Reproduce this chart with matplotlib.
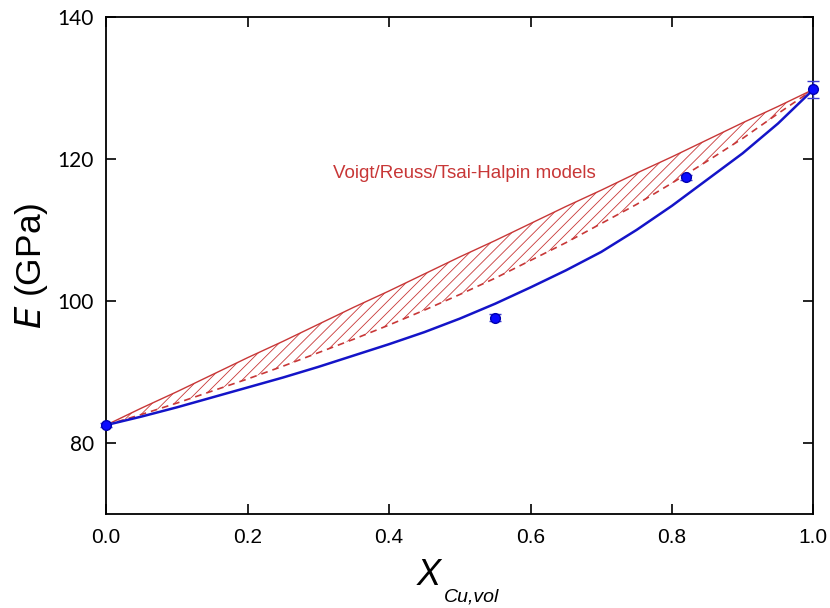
import numpy as np
import matplotlib
matplotlib.use("Agg")
import matplotlib.pyplot as plt

# measured points
x_pts = [0.0, 0.55, 0.82, 1.0]
E_pts = [82.5, 97.6, 117.4, 129.8]
E_err = [0.3, 0.5, 0.3, 1.2]

# model curves
x_model = [0.0, 0.05, 0.1, 0.15, 0.2, 0.25, 0.3, 0.35, 0.4, 0.45, 0.5,
           0.55, 0.6, 0.65, 0.7, 0.75, 0.8, 0.85, 0.9, 0.95, 1.0]
E_fit = [82.5, 83.7, 85.0, 86.4, 87.8, 89.2, 90.7, 92.3, 93.9, 95.6, 97.5,
         99.6, 101.9, 104.3, 106.9, 110.0, 113.4, 117.1, 120.8, 125.0, 129.8]
E_voigt = [82.5, 84.9, 87.2, 89.6, 92.0, 94.3, 96.7, 99.1, 101.4, 103.8, 106.2,
           108.5, 110.9, 113.3, 115.6, 118.0, 120.3, 122.7, 125.1, 127.4, 129.8]
E_reuss = [82.5, 84.0, 85.6, 87.3, 89.0, 90.8, 92.7, 94.6, 96.6, 98.7, 100.9,
           103.2, 105.7, 108.2, 110.9, 113.6, 116.6, 119.7, 122.9, 126.4, 129.8]

red = "#c83737"
blue = "#1414c8"

plt.rcParams['hatch.linewidth'] = 0.6
plt.rcParams['font.family'] = 'Liberation Sans'

fig = plt.figure(figsize=(8.3, 6.08), dpi=100)
ax = fig.add_axes([0.128, 0.155, 0.852, 0.817])

ax.fill_between(x_model, E_reuss, E_voigt, facecolor="none", edgecolor=red,
                hatch="///", linewidth=0)
ax.plot(x_model, E_voigt, color=red, lw=1.0)
ax.plot(x_model, E_reuss, color=red, lw=1.2, ls=(0, (4, 3)))
ax.plot(x_model, E_fit, color=blue, lw=1.8)
ax.errorbar(x_pts, E_pts, yerr=E_err, fmt="o", color="#0a0aff", ms=7,
            mec="#0000b0", ecolor="#3a3ad0", elinewidth=1, capsize=4, zorder=5,
            clip_on=False)

ax.text(0.506, 118.0, "Voigt/Reuss/Tsai-Halpin models", color=red,
        fontsize=13.5, ha="center", va="center")

ax.set_xlim(0, 1)
ax.set_ylim(70, 140)
ax.set_xticks([0.0, 0.2, 0.4, 0.6, 0.8, 1.0])
ax.set_yticks([80, 100, 120, 140])
ax.set_xticklabels(["0.0", "0.2", "0.4", "0.6", "0.8", "1.0"], fontsize=15)
ax.set_yticklabels(["80", "100", "120", "140"], family="Lato", fontsize=15)
ax.tick_params(direction="in", length=7, width=1.2, top=True, right=True)
ax.tick_params(axis="x", pad=10)
ax.tick_params(axis="y", pad=9)
for s in ax.spines.values():
    s.set_linewidth(1.3)

ax.set_ylabel(r"$\mathit{E}$ (GPa)", fontsize=25.5)
ax.yaxis.set_label_coords(-0.08, 0.5)

# x label: big italic X with a small, low subscript
fig.text(417 / 830, 1 - 585 / 608, "X", fontsize=26, style="italic",
         ha="left", va="baseline")
fig.text(444 / 830, 1 - 601 / 608, "Cu,vol", fontsize=14, style="italic",
         ha="left", va="baseline")

fig.savefig("out.png", dpi=100)
